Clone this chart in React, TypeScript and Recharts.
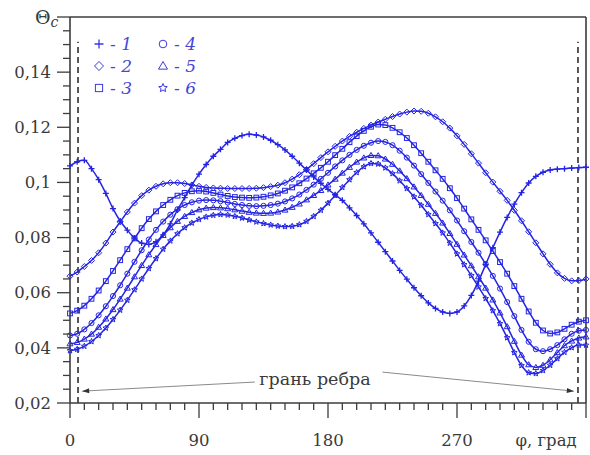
import React from "react"
import { LineChart, Line, XAxis, YAxis, ReferenceLine, Legend, Label } from "recharts"

// angle, degrees
const phi = [
    0, 5, 10, 15, 20, 25, 30, 35, 40, 45, 50, 55,
    60, 65, 70, 75, 80, 85, 90, 95, 100, 105, 110, 115,
    120, 125, 130, 135, 140, 145, 150, 155, 160, 165, 170, 175,
    180, 185, 190, 195, 200, 205, 210, 215, 220, 225, 230, 235,
    240, 245, 250, 255, 260, 265, 270, 275, 280, 285, 290, 295,
    300, 305, 310, 315, 320, 325, 330, 335, 340, 345, 350, 355,
    360
]

const curve1 = [
    0.106, 0.1075, 0.108, 0.105, 0.101, 0.096, 0.0905, 0.086, 0.0827, 0.0798, 0.078, 0.0775,
    0.0785, 0.081, 0.085, 0.09, 0.0945, 0.099, 0.103, 0.1065, 0.1095, 0.112, 0.1145, 0.116,
    0.117, 0.1175, 0.1172, 0.1165, 0.1153, 0.1137, 0.1118, 0.1095, 0.107, 0.1045, 0.102, 0.0997,
    0.0975, 0.0955, 0.0935, 0.0908, 0.088, 0.085, 0.0817, 0.0783, 0.0749, 0.0715, 0.0681, 0.0649,
    0.0618, 0.0589, 0.0563, 0.0543, 0.053, 0.0525, 0.053, 0.0552, 0.059, 0.0642, 0.0702, 0.0763,
    0.082, 0.0873, 0.0921, 0.0963, 0.0998, 0.1022, 0.1037, 0.1045, 0.1048, 0.105, 0.1052, 0.1054,
    0.1055
]

const curve2 = [
    0.066, 0.0675, 0.0695, 0.0717, 0.0745, 0.078, 0.082, 0.0857, 0.0893, 0.0925, 0.0952, 0.0972,
    0.0986, 0.0995, 0.0999, 0.0999, 0.0996, 0.0991, 0.0986, 0.0982, 0.098, 0.0979, 0.0978, 0.0978,
    0.0978, 0.0978, 0.0979, 0.0981, 0.0985, 0.099, 0.0999, 0.1012, 0.1028, 0.1047, 0.1068, 0.109,
    0.1111, 0.1131, 0.115, 0.1167, 0.1182, 0.1196, 0.1208, 0.1219, 0.1229, 0.1239, 0.1248, 0.1255,
    0.1259, 0.1258, 0.1251, 0.1238, 0.122, 0.1197, 0.1169, 0.1138, 0.1104, 0.107, 0.1035, 0.1001,
    0.0968, 0.0935, 0.0899, 0.0861, 0.0821, 0.0781, 0.0741, 0.0703, 0.0672, 0.0652, 0.0643, 0.0644,
    0.065
]

const curve3 = [
    0.0525, 0.0535, 0.0553, 0.0578, 0.0608, 0.0642, 0.0679, 0.0718, 0.0758, 0.0797, 0.0834, 0.0867,
    0.0895, 0.0918, 0.0937, 0.0952, 0.0962, 0.0968, 0.097, 0.0967, 0.0962, 0.0956, 0.0951, 0.0947,
    0.0945, 0.0944, 0.0945, 0.0948, 0.0953, 0.096, 0.097, 0.0982, 0.0997, 0.1014, 0.1033, 0.1053,
    0.1075, 0.1099, 0.1122, 0.1146, 0.1168, 0.1187, 0.1202, 0.121, 0.1208, 0.1198, 0.1182, 0.1161,
    0.1135, 0.1106, 0.1075, 0.1044, 0.1013, 0.0979, 0.0943, 0.0905, 0.0866, 0.0828, 0.079, 0.0751,
    0.0711, 0.0669, 0.0624, 0.0578, 0.0532, 0.0491, 0.0463, 0.0452, 0.0456, 0.0469, 0.0484, 0.0495,
    0.05
]

const curve4 = [
    0.0445, 0.0451, 0.0467, 0.049, 0.0518, 0.0551, 0.0588, 0.0627, 0.0669, 0.0712, 0.0754, 0.0793,
    0.0828, 0.0858, 0.0883, 0.0903, 0.0918, 0.0928, 0.0934, 0.0936, 0.0935, 0.0932, 0.0927, 0.0922,
    0.0918, 0.0915, 0.0914, 0.0915, 0.0918, 0.0923, 0.0931, 0.0942, 0.0956, 0.0973, 0.0992, 0.1013,
    0.1035, 0.1058, 0.108, 0.11, 0.1118, 0.1133, 0.1144, 0.115, 0.1147, 0.1135, 0.1115, 0.109,
    0.1061, 0.103, 0.0998, 0.0967, 0.0934, 0.0899, 0.0862, 0.0823, 0.0784, 0.0745, 0.0704, 0.0661,
    0.0615, 0.0566, 0.0515, 0.0465, 0.0422, 0.0395, 0.0388, 0.0395, 0.041, 0.0431, 0.0451, 0.0462,
    0.0465
]

const curve5 = [
    0.0415, 0.042, 0.0432, 0.045, 0.0475, 0.0505, 0.0539, 0.0577, 0.0617, 0.0658, 0.0699, 0.0738,
    0.0775, 0.0808, 0.0836, 0.0859, 0.0877, 0.0891, 0.0901, 0.0907, 0.0909, 0.0908, 0.0905, 0.0901,
    0.0896, 0.0892, 0.0889, 0.0888, 0.0889, 0.0893, 0.09, 0.091, 0.0922, 0.0937, 0.0953, 0.0971,
    0.0991, 0.1012, 0.1034, 0.1055, 0.1074, 0.1089, 0.1098, 0.1097, 0.1085, 0.1066, 0.1042, 0.1014,
    0.0984, 0.0953, 0.0921, 0.0888, 0.0853, 0.0815, 0.0776, 0.0737, 0.0698, 0.0658, 0.0617, 0.0574,
    0.0527, 0.0477, 0.0424, 0.0374, 0.0339, 0.0329, 0.0337, 0.0357, 0.0383, 0.0408, 0.0425, 0.0436,
    0.044
]

const curve6 = [
    0.039, 0.0395, 0.0406, 0.0423, 0.0445, 0.0472, 0.0503, 0.0537, 0.0573, 0.0611, 0.065, 0.0688,
    0.0724, 0.0758, 0.0788, 0.0814, 0.0836, 0.0853, 0.0866, 0.0875, 0.0881, 0.0884, 0.0882, 0.0877,
    0.0871, 0.0864, 0.0857, 0.0851, 0.0846, 0.0842, 0.084, 0.0841, 0.0847, 0.0859, 0.0877, 0.0899,
    0.0925, 0.0953, 0.0982, 0.101, 0.1036, 0.1057, 0.1069, 0.1067, 0.1053, 0.1032, 0.1006, 0.0978,
    0.0948, 0.0917, 0.0884, 0.0851, 0.0817, 0.078, 0.0741, 0.0702, 0.0662, 0.0621, 0.0579, 0.0535,
    0.0488, 0.0437, 0.0383, 0.0336, 0.031, 0.0307, 0.0318, 0.0337, 0.0361, 0.0384, 0.0401, 0.041,
    0.041
]

const xTicks = [
    0, 10, 20, 30, 40, 50, 60, 70, 80, 90, 100, 110, 120, 130, 140, 150, 160, 170, 180,
    190, 200, 210, 220, 230, 240, 250, 260, 270, 280, 290, 300, 310, 320, 330, 340, 350, 360
]
const xLabels = [0, 90, 180, 270]

const yTicks = [
    0.02, 0.025, 0.03, 0.035, 0.04, 0.045, 0.05, 0.055, 0.06, 0.065, 0.07, 0.075, 0.08, 0.085,
    0.09, 0.095, 0.1, 0.105, 0.11, 0.115, 0.12, 0.125, 0.13, 0.135, 0.14, 0.145, 0.15, 0.155, 0.16
]
const yLabels = [0.02, 0.04, 0.06, 0.08, 0.1, 0.12, 0.14]

const seriesKeys = ["s1", "s2", "s3", "s4", "s5", "s6"]
const seriesNames = ["1", "2", "3", "4", "5", "6"]
const markerShapes = ["plus", "diamond", "square", "circle", "triangle", "star"]
const curves = [curve1, curve2, curve3, curve4, curve5, curve6]

const data = phi.map((p, i) => {
    const row: any = { phi: p }
    seriesKeys.forEach((k, j) => { row[k] = curves[j][i] })
    return row
})

const BLUE = "#2424e4"
const AXIS = "#3c3c3c"
const TEXT = "#3a3a3a"
const SERIF = "'DejaVu Serif', 'Liberation Serif', serif"
const serifStyle = { fontFamily: SERIF }

const isIn = (list: number[], v: number) => list.some(m => Math.abs(m - v) < 1e-9)
const fmt = (v: number) => String(Number(v.toFixed(3))).replace(".", ",")

function Marker({ cx, cy, shape, s = 3, color = BLUE }: any) {
    if (cx == null || cy == null) return null
    const common = { stroke: color, strokeWidth: 1, fill: "none" }
    if (shape === "plus") {
        return <path d={`M${cx - s},${cy}H${cx + s}M${cx},${cy - s}V${cy + s}`} {...common} strokeWidth={1.3} />
    }
    if (shape === "diamond") {
        return <path d={`M${cx},${cy - s}L${cx + s},${cy}L${cx},${cy + s}L${cx - s},${cy}Z`} {...common} />
    }
    if (shape === "square") {
        return <rect x={cx - s * 0.8} y={cy - s * 0.8} width={s * 1.6} height={s * 1.6} {...common} />
    }
    if (shape === "circle") {
        return <circle cx={cx} cy={cy} r={s * 0.85} {...common} />
    }
    if (shape === "triangle") {
        return <path d={`M${cx},${cy - s}L${cx + s},${cy + s * 0.7}L${cx - s},${cy + s * 0.7}Z`} {...common} />
    }
    // star
    const pts: string[] = []
    for (let k = 0; k < 10; k++) {
        const r = k % 2 === 0 ? s : s * 0.45
        const a = -Math.PI / 2 + (k * Math.PI) / 5
        pts.push(`${cx + r * Math.cos(a)},${cy + r * Math.sin(a)}`)
    }
    return <polygon points={pts.join(" ")} {...common} />
}

function YTick({ x, y, payload }: any) {
    const v = payload.value
    const major = isIn(yLabels, v) || Math.abs(v - 0.16) < 1e-9
    return (
        <g>
            <line x1={x} x2={x - (major ? 13 : 7)} y1={y} y2={y} stroke={AXIS} strokeWidth={1.3} />
            {isIn(yLabels, v) && (
                <text x={x - 19} y={y} dy="0.35em" textAnchor="end" style={serifStyle} fontSize={16.5} fill={TEXT}>
                    {fmt(v)}
                </text>
            )}
        </g>
    )
}

function XTick({ x, y, payload }: any) {
    const v = payload.value
    const major = isIn(xLabels, v) || v === 360
    return (
        <g>
            <line x1={x} x2={x} y1={y} y2={y + (major ? 15 : 7)} stroke={AXIS} strokeWidth={1.3} />
            {isIn(xLabels, v) && (
                <text x={x} y={y + 37} dy="0.35em" textAnchor="middle" style={serifStyle} fontSize={16.5} fill={TEXT}>
                    {v}
                </text>
            )}
        </g>
    )
}

function Arrow({ x1, y1, x2, y2 }: any) {
    const a = Math.atan2(y2 - y1, x2 - x1)
    const L = 7, W = 2.5
    const bx = x2 - L * Math.cos(a), by = y2 - L * Math.sin(a)
    const p1 = `${bx + W * Math.sin(a)},${by - W * Math.cos(a)}`
    const p2 = `${bx - W * Math.sin(a)},${by + W * Math.cos(a)}`
    return (
        <g>
            <line x1={x1} y1={y1} x2={x2} y2={y2} stroke="#8a8a8a" strokeWidth={1} />
            <polygon points={`${x2},${y2} ${p1} ${p2}`} fill="#333" />
        </g>
    )
}

function LegendBox() {
    const cols = [[0, 1, 2], [3, 4, 5]]
    return (
        <div style={{ display: "flex", gap: 24, fontFamily: SERIF, fontSize: 17, color: "#4646d6", lineHeight: "22px" }}>
            {cols.map((col, ci) => (
                <div key={ci}>
                    {col.map(i => (
                        <div key={i} style={{ display: "flex", alignItems: "center" }}>
                            <svg width={14} height={14} style={{ marginRight: 4 }}>
                                <Marker cx={7} cy={7} s={4.5} shape={markerShapes[i]} color="#3a3ae0" />
                            </svg>
                            <span>-&nbsp;</span>
                            <i>{seriesNames[i]}</i>
                        </div>
                    ))}
                </div>
            ))}
        </div>
    )
}

export default function App() {
    return (
        <div style={{ position: "absolute", left: 0, top: 0, width: 590, height: 455, background: "#fff" }}>
            <LineChart width={590} height={455} data={data} margin={{ top: 17, right: 4, left: 0, bottom: 0 }}>
                <XAxis
                    dataKey="phi"
                    type="number"
                    domain={[0, 360]}
                    ticks={xTicks}
                    interval={0}
                    height={52}
                    tickSize={0}
                    tickMargin={0}
                    tickLine={false}
                    axisLine={{ stroke: AXIS, strokeWidth: 1.6 }}
                    tick={<XTick />}
                >
                    <Label
                        content={() => (
                            <text x={546} y={446} textAnchor="middle" style={serifStyle} fontSize={16.5} fill={TEXT}>
                                φ, град
                            </text>
                        )}
                    />
                </XAxis>
                <YAxis
                    type="number"
                    domain={[0.02, 0.16]}
                    ticks={yTicks}
                    interval={0}
                    width={70}
                    tickSize={0}
                    tickMargin={0}
                    tickLine={false}
                    axisLine={{ stroke: AXIS, strokeWidth: 1.6 }}
                    tick={<YTick />}
                >
                    <Label
                        content={() => (
                            <text x={35} y={24} style={serifStyle} fontSize={19} fill={TEXT}>
                                Θ
                                <tspan fontStyle="italic" fontSize={14} dy={3}>c</tspan>
                            </text>
                        )}
                    />
                </YAxis>
                <ReferenceLine y={0.16} stroke={AXIS} strokeWidth={1.6} />
                <ReferenceLine x={360} stroke={AXIS} strokeWidth={1.6} />
                <ReferenceLine
                    segment={[{ x: 5.6, y: 0.02 }, { x: 5.6, y: 0.151 }]}
                    stroke="#222"
                    strokeWidth={1.5}
                    strokeDasharray="6 4"
                />
                <ReferenceLine
                    segment={[{ x: 354.4, y: 0.02 }, { x: 354.4, y: 0.151 }]}
                    stroke="#222"
                    strokeWidth={1.5}
                    strokeDasharray="6 4"
                />
                <ReferenceLine segment={[{ x: 129, y: 0.0276 }, { x: 8.5, y: 0.0243 }]} shape={<Arrow />} />
                <ReferenceLine segment={[{ x: 218, y: 0.0312 }, { x: 351.5, y: 0.0243 }]} shape={<Arrow />} />
                <ReferenceLine
                    y={0.0285}
                    stroke="none"
                    label={{
                        content: () => (
                            <text x={315} y={385} textAnchor="middle" style={serifStyle} fontSize={17.5} fill={TEXT}>
                                грань ребра
                            </text>
                        )
                    }}
                />
                {seriesKeys.map((k, j) => (
                    <Line
                        key={k}
                        dataKey={k}
                        name={seriesNames[j]}
                        type="monotone"
                        stroke={BLUE}
                        strokeWidth={1.5}
                        isAnimationActive={false}
                        dot={(p: any) => (
                            <g key={`${k}-${p.index}`}>
                                <Marker cx={p.cx} cy={p.cy} shape={markerShapes[j]} />
                            </g>
                        )}
                    />
                ))}
                <Legend
                    layout="vertical"
                    align="center"
                    verticalAlign="middle"
                    wrapperStyle={{ left: 92, top: 33, width: 150 }}
                    content={() => <LegendBox />}
                />
            </LineChart>
        </div>
    )
}
